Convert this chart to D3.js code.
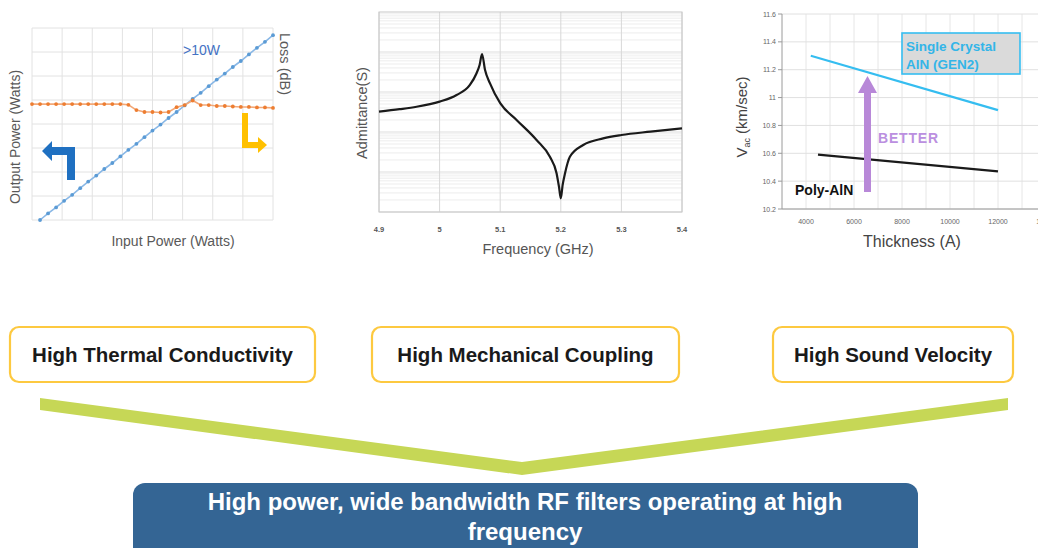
<!DOCTYPE html>
<html><head><meta charset="utf-8">
<script src="https://cdn.jsdelivr.net/npm/d3@7/dist/d3.min.js"></script>
<style>html,body{margin:0;padding:0;background:#fff;} svg{display:block;font-family:"Liberation Sans",Arial,sans-serif;}</style>
</head><body><svg id="c" width="1038" height="548"></svg>
<script>
// ---------- Left chart: output power & loss vs input power ----------
const inputPower = [1,2,3,4,5,6,7,8,9,10,11,12,13,14,15,16,17,18,19,20,21,22,23,24,25,26,27,28,29,30];
const outputPower = [0,1.1,2.1,3.2,4.2,5.3,6.4,7.4,8.5,9.5,10.6,11.7,12.7,13.8,14.9,15.9,17.0,18.0,19.1,20.2,21.2,22.3,23.4,24.4,25.5,26.5,27.6,28.7,29.7,30.8];
const lossInput = [0,1,2,3,4,5,6,7,8,9,10,11,12,13,14,15,16,17,18,19,20,21,22,23,24,25,26,27,28,29,30];
const lossDb = [4.83,4.83,4.83,4.83,4.83,4.83,4.83,4.83,4.83,4.83,4.83,4.83,4.80,4.58,4.50,4.50,4.48,4.50,4.70,4.79,4.98,4.79,4.79,4.75,4.75,4.73,4.71,4.71,4.69,4.69,4.67];
const powerLabel = ">10W";

// ---------- Middle chart: admittance vs frequency ----------
const freqGHz =   [4.90,4.934,4.962,5.00,5.028,5.05,5.061,5.066,5.070,5.075,5.083,5.100,5.127,5.160,5.182,5.193,5.197,5.200,5.203,5.207,5.215,5.237,5.27,5.30,5.348,5.40];
const admittance = [0.324,0.372,0.427,0.575,0.841,1.50,2.95,4.73,8.91,3.55,1.66,0.525,0.200,0.0631,0.0240,0.00933,0.00427,0.00219,0.00468,0.00933,0.0240,0.0473,0.0692,0.0841,0.102,0.123];
const freqTicks = [4.9,5,5.1,5.2,5.3,5.4];

// ---------- Right chart: acoustic velocity vs thickness ----------
const thickTicks = [4000,6000,8000,10000,12000,14000];
const velTicks = [10.2,10.4,10.6,10.8,11,11.2,11.4,11.6];
const singleThk = [4200,12000];
const singleVel = [11.30,10.91];
const polyThk = [4500,12000];
const polyVel = [10.59,10.47];
const seriesNames = ["Single Crystal","AlN (GEN2)","Poly-AlN","BETTER"];

// ---------- Bottom ----------
const featureLabels = ["High Thermal Conductivity","High Mechanical Coupling","High Sound Velocity"];
const conclusionLines = ["High power, wide bandwidth RF filters operating at high","frequency"];

const svg = d3.select("#c");
svg.append("rect").attr("width",1038).attr("height",548).attr("fill","#fff");

// ===== Left chart =====
{
  const x = d3.scaleLinear().domain([0,30]).range([32,273]);
  const y = d3.scaleLinear().domain([0,32]).range([220,28]);
  const y2 = d3.scaleLinear().domain([0,8]).range([220,28]);
  const g = svg.append("g");
  const gx = d3.range(0,30.01,3.75), gy = d3.range(0,32.01,4);
  g.selectAll(".vx").data(gx).join("line").attr("x1",d=>x(d)).attr("x2",d=>x(d)).attr("y1",y(0)).attr("y2",y(32)).attr("stroke","#e2e2e2");
  g.selectAll(".hy").data(gy).join("line").attr("y1",d=>y(d)).attr("y2",d=>y(d)).attr("x1",x(0)).attr("x2",x(30)).attr("stroke","#e2e2e2");
  // blue
  const bl = inputPower.map((d,i)=>[d,outputPower[i]]);
  g.append("path").datum(bl).attr("d",d3.line().x(d=>x(d[0])).y(d=>y(d[1]))).attr("fill","none").attr("stroke","#8ab8e6").attr("stroke-width",1.6);
  g.selectAll(".bd").data(bl).join("circle").attr("cx",d=>x(d[0])).attr("cy",d=>y(d[1])).attr("r",1.9).attr("fill","#5b9bd5");
  // orange
  const ol = lossInput.map((d,i)=>[d,lossDb[i]]);
  g.append("path").datum(ol).attr("d",d3.line().x(d=>x(d[0])).y(d=>y2(d[1]))).attr("fill","none").attr("stroke","#f3a877").attr("stroke-width",1.6);
  g.selectAll(".od").data(ol).join("circle").attr("cx",d=>x(d[0])).attr("cy",d=>y2(d[1])).attr("r",1.9).attr("fill","#ed7d31");
  g.append("text").attr("x",183).attr("y",55).attr("font-size",14).attr("fill","#4472c4").text(powerLabel);
  // axis labels
  g.append("text").attr("transform","translate(20,137) rotate(-90)").attr("text-anchor","middle").attr("font-size",14).attr("fill","#595959").text("Output Power (Watts)");
  g.append("text").attr("transform","translate(280,64) rotate(90)").attr("text-anchor","middle").attr("font-size",14.5).attr("fill","#595959").text("Loss (dB)");
  g.append("text").attr("x",173).attr("y",246).attr("text-anchor","middle").attr("font-size",14).attr("fill","#595959").text("Input Power (Watts)");
  // axis indicator arrows
  g.append("path").attr("d","M75,180 L67,180 L67,155 L52,155 L52,161 L42,151 L52,141 L52,147 L75,147 Z").attr("fill","#1f70c1");
  g.append("path").attr("d","M242,113 L248,113 L248,142 L258,142 L258,137 L267,145 L258,153 L258,148 L242,148 Z").attr("fill","#ffc000");
}

// ===== Middle chart =====
{
  const x = d3.scaleLinear().domain([4.9,5.4]).range([379,682]);
  const y = d3.scaleLog().domain([1e-3,1e2]).range([212,12]);
  const g = svg.append("g");
  const minor = [];
  for (let e=-3;e<2;e++) for (let k=1;k<10;k++) minor.push(k*Math.pow(10,e));
  g.selectAll(".mh").data(minor).join("line").attr("x1",379).attr("x2",682).attr("y1",d=>y(d)).attr("y2",d=>y(d)).attr("stroke",(d,i)=>i%9===0?"#d4d4d4":"#e8e8e8").attr("stroke-width",0.8);
  g.selectAll(".mv").data(freqTicks).join("line").attr("x1",d=>x(d)).attr("x2",d=>x(d)).attr("y1",12).attr("y2",212).attr("stroke","#d8d8d8");
  g.append("rect").attr("x",379).attr("y",12).attr("width",303).attr("height",200).attr("fill","none").attr("stroke","#c8c8c8");
  const pts = freqGHz.map((f,i)=>[f,admittance[i]]);
  g.append("path").datum(pts).attr("d",d3.line().x(d=>x(d[0])).y(d=>y(d[1])).curve(d3.curveMonotoneX)).attr("fill","none").attr("stroke","#1a1a1a").attr("stroke-width",2.2);
  g.selectAll(".tl").data(freqTicks).join("text").attr("x",d=>x(d)).attr("y",232).attr("text-anchor","middle").attr("font-size",7.5).attr("font-weight","bold").attr("fill","#555").text(d=>String(d));
  g.append("text").attr("x",538).attr("y",254).attr("text-anchor","middle").attr("font-size",14.5).attr("fill","#555").text("Frequency (GHz)");
  g.append("text").attr("transform","translate(367,113) rotate(-90)").attr("text-anchor","middle").attr("font-size",14.5).attr("fill","#555").text("Admittance(S)");
}

// ===== Right chart =====
{
  const x = d3.scaleLinear().domain([3000,15000]).range([782,1070]);
  const y = d3.scaleLinear().domain([10.2,11.6]).range([209,14]);
  const g = svg.append("g");
  g.selectAll(".rv").data(d3.range(4000,15001,1000)).join("line").attr("x1",d=>x(d)).attr("x2",d=>x(d)).attr("y1",y(10.2)).attr("y2",y(11.6)).attr("stroke","#e6e6e6");
  g.selectAll(".rh").data(velTicks).join("line").attr("x1",x(3000)).attr("x2",1038).attr("y1",d=>y(d)).attr("y2",d=>y(d)).attr("stroke","#e0e0e0");
  g.append("line").attr("x1",x(3000)).attr("x2",x(3000)).attr("y1",y(10.2)).attr("y2",y(11.6)).attr("stroke","#9a9a9a");
  g.append("line").attr("x1",x(3000)).attr("x2",1038).attr("y1",y(10.2)).attr("y2",y(10.2)).attr("stroke","#9a9a9a");
  g.selectAll(".rt").data(velTicks).join("line").attr("x1",x(3000)-4).attr("x2",x(3000)).attr("y1",d=>y(d)).attr("y2",d=>y(d)).attr("stroke","#9a9a9a");
  g.selectAll(".ryl").data(velTicks).join("text").attr("x",x(3000)-6).attr("y",d=>y(d)+2.5).attr("text-anchor","end").attr("font-size",7).attr("fill","#666").text(d=>String(d));
  g.selectAll(".rxl").data(thickTicks).join("text").attr("x",d=>x(d)).attr("y",224).attr("text-anchor","middle").attr("font-size",7).attr("fill","#666").text(d=>String(d));
  g.append("path").datum(singleThk.map((t,i)=>[t,singleVel[i]])).attr("d",d3.line().x(d=>x(d[0])).y(d=>y(d[1]))).attr("stroke","#35bdf0").attr("stroke-width",2.2).attr("fill","none");
  g.append("path").datum(polyThk.map((t,i)=>[t,polyVel[i]])).attr("d",d3.line().x(d=>x(d[0])).y(d=>y(d[1]))).attr("stroke","#1a1a1a").attr("stroke-width",2.2).attr("fill","none");
  // label box
  g.append("rect").attr("x",902).attr("y",33).attr("width",118).attr("height",41).attr("fill","#dadada").attr("stroke","#35bdf0").attr("stroke-width",1.6);
  g.append("text").attr("x",906).attr("y",51).attr("font-size",13.5).attr("font-weight","bold").attr("fill","#33b5e8").text(seriesNames[0]);
  g.append("text").attr("x",906).attr("y",69).attr("font-size",13.5).attr("font-weight","bold").attr("fill","#33b5e8").text(seriesNames[1]);
  g.append("text").attr("x",795).attr("y",195).attr("font-size",14).attr("font-weight","bold").attr("fill","#111").text(seriesNames[2]);
  // BETTER arrow
  g.append("path").attr("d","M864,192 L871,192 L871,93 L877,93 L867.5,76 L858,93 L864,93 Z").attr("fill","#b888d8");
  g.append("text").attr("x",878).attr("y",143).attr("font-size",14).attr("font-weight","bold").attr("letter-spacing",0.8).attr("fill","#bb8fe0").text(seriesNames[3]);
  g.append("text").attr("x",912).attr("y",247).attr("text-anchor","middle").attr("font-size",16).attr("fill","#444").text("Thickness (A)");
  const yl = g.append("text").attr("transform","translate(747,117) rotate(-90)").attr("text-anchor","middle").attr("font-size",15).attr("fill","#444");
  yl.append("tspan").text("V");
  yl.append("tspan").attr("font-size",9).attr("dy",3).text("ac");
  yl.append("tspan").attr("dy",-3).text(" (km/sec)");
}

// ===== Feature boxes =====
const boxes = [[10,315],[372,679],[773,1013]];
svg.selectAll(".fb").data(featureLabels).join("rect").attr("x",(d,i)=>boxes[i][0]).attr("y",327).attr("width",(d,i)=>boxes[i][1]-boxes[i][0]).attr("height",55).attr("rx",9).attr("fill","#fff").attr("stroke","#fdc940").attr("stroke-width",2.2);
svg.selectAll(".ft").data(featureLabels).join("text").attr("x",(d,i)=>(boxes[i][0]+boxes[i][1])/2).attr("y",362).attr("text-anchor","middle").attr("font-size",20.5).attr("font-weight","bold").attr("fill","#1a1a1a").text(d=>d);

// ===== Green V =====
svg.append("path").attr("d","M40,398 L522,462 L1008,398 L1008,410 L522,475 L40,410 Z").attr("fill","#c6d756");

// ===== Conclusion box =====
svg.append("rect").attr("x",133).attr("y",483).attr("width",785).attr("height",80).attr("rx",12).attr("fill","#346594");
svg.selectAll(".cl").data(conclusionLines).join("text").attr("x",525).attr("y",(d,i)=>510+i*30).attr("text-anchor","middle").attr("font-size",24).attr("font-weight","bold").attr("fill","#fff").text(d=>d);
</script></body></html>
